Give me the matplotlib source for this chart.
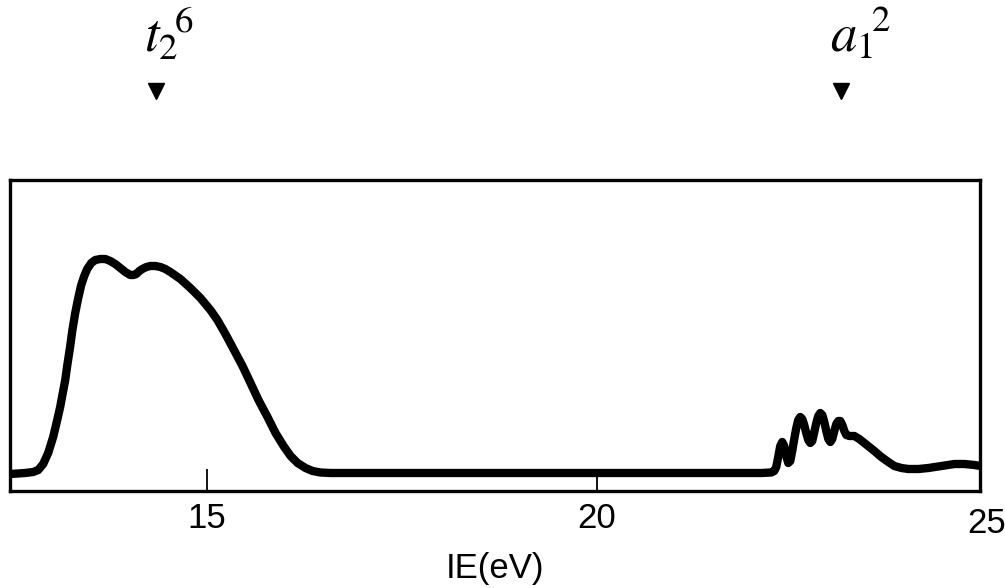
import matplotlib
matplotlib.use('Agg')
import matplotlib.pyplot as plt
from matplotlib import transforms

# photoelectron spectrum, intensity in arbitrary units
ENERGY_LOW = [12.472, 12.664, 12.767, 12.832, 12.896, 12.960, 13.024, 13.076,
              13.114, 13.140, 13.179, 13.204, 13.243, 13.269, 13.307, 13.346,
              13.384, 13.423, 13.461, 13.513, 13.564, 13.629, 13.693, 13.757,
              13.821, 13.886, 13.950, 14.014, 14.053, 14.091, 14.130, 14.168,
              14.220, 14.271, 14.335, 14.400, 14.464, 14.528, 14.657, 14.785,
              14.914, 15.042, 15.132, 15.235, 15.338, 15.454, 15.557, 15.659,
              15.775, 15.878, 15.981, 16.071, 16.161, 16.263, 16.353, 16.456,
              16.585]
INTENSITY_LOW = [-1, 0, 1, 3, 9, 20, 36, 53,
                 66, 77, 93, 107, 127, 142, 160, 175,
                 188, 197, 204, 210, 213, 214, 214, 212,
                 209, 205, 201, 198, 198, 199, 202, 204,
                 206, 207, 207, 206, 204, 201, 194, 185,
                 175, 163, 153, 139, 124, 107, 90, 73,
                 56, 40, 27, 17, 10, 5, 2, 0.5,
                 0]

ENERGY_HIGH = [22.112, 22.240, 22.279, 22.305, 22.330, 22.356, 22.382, 22.407,
               22.433, 22.459, 22.485, 22.510, 22.536, 22.562, 22.587, 22.613,
               22.639, 22.664, 22.690, 22.716, 22.742, 22.767, 22.793, 22.819,
               22.844, 22.870, 22.896, 22.922, 22.947, 22.973, 22.999, 23.024,
               23.050, 23.076, 23.102, 23.127, 23.153, 23.179, 23.204, 23.243,
               23.307, 23.371, 23.436, 23.500, 23.564, 23.654, 23.744, 23.821,
               23.911, 24.001, 24.130, 24.258, 24.425, 24.593, 24.721, 24.850,
               24.927]
INTENSITY_HIGH = [0, 0.5, 2, 6, 16, 27, 31, 27,
                  17, 10, 12, 22, 34, 45, 53, 56,
                  54, 48, 40, 33, 30, 32, 41, 50,
                  57, 60, 58, 51, 42, 34, 31, 34,
                  42, 49, 52, 52, 48, 42, 38, 37,
                  37, 34, 30, 26, 22, 16, 11, 7,
                  5, 4, 4, 5, 7, 9, 9, 8,
                  7]

TICKS = [15, 20]
TICK_LABELS = ['15', '20']
EXTRA_LABEL = (25, '25')

BANDS = [(14.34, r'$t_{\mathrm{2}}\!{}^{\mathrm{6}}$'),
         (23.14, r'$a_{\mathrm{1}}\!{}^{\mathrm{2}}$')]

SANS = 'Liberation Sans'
matplotlib.rcParams['mathtext.fontset'] = 'stix'

fig = plt.figure(figsize=(10.05, 5.88), dpi=100)
ax = fig.add_axes([10 / 1005, 97 / 588, 970 / 1005, 311 / 588])

ax.plot(ENERGY_LOW + ENERGY_HIGH, INTENSITY_LOW + INTENSITY_HIGH, color='black',
        linewidth=6.0, solid_joinstyle='round', solid_capstyle='round')

ax.set_xlim(12.47, 24.92)
ax.set_ylim(-18, 293)
ax.set_yticks([])
ax.set_xticks(TICKS)
ax.set_xticklabels(TICK_LABELS, fontfamily=SANS, fontsize=25)
ax.tick_params(axis='x', direction='in', length=16, width=1.3, pad=8)
for sp in ax.spines.values():
    sp.set_linewidth(2.4)

trans = transforms.blended_transform_factory(ax.transData, ax.transAxes)
ax.text(EXTRA_LABEL[0], -0.05, EXTRA_LABEL[1], transform=trans, ha='center',
        va='top', fontfamily=SANS, fontsize=25, clip_on=False)

ax.set_xlabel('IE(eV)', fontfamily=SANS, fontsize=25, labelpad=12)

# band markers above the plot
ftrans = transforms.blended_transform_factory(ax.transData, fig.transFigure)
for e, lab in BANDS:
    ax.plot([e], [1 - 91 / 588], marker='v', color='black', markersize=11,
            transform=ftrans, clip_on=False)
    ax.text(e - 0.15, 1 - 52 / 588, lab, transform=ftrans, ha='left',
            va='baseline', fontsize=38, clip_on=False)

fig.savefig('out.png', dpi=100)
